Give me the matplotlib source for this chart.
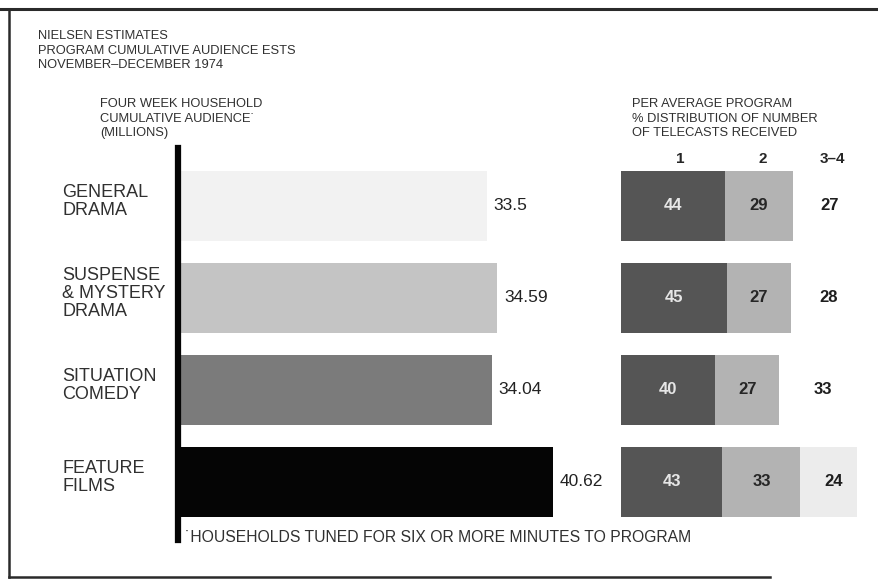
import matplotlib.pyplot as plt
from matplotlib.lines import Line2D

plt.rcParams["font.family"] = ["Liberation Sans", "DejaVu Sans"]

categories = ["GENERAL\nDRAMA", "SUSPENSE\n& MYSTERY\nDRAMA", "SITUATION\nCOMEDY", "FEATURE\nFILMS"]
audience_millions = [33.5, 34.59, 34.04, 40.62]

telecast_groups = ["1", "2", "3\u20134"]
share_one = [44, 45, 40, 43]
share_two = [29, 27, 27, 33]
share_three_four = [27, 28, 33, 24]

bar_colors = ["#f2f2f2", "#c4c4c4", "#7b7b7b", "#050505"]
seg_colors = ["#555555", "#b3b3b3"]
seg3_colors = ["#ffffff", "#ffffff", "#ffffff", "#ececec"]

W, H = 879, 580
fig = plt.figure(figsize=(W / 100, H / 100), dpi=100)
fig.patch.set_facecolor("white")


def fx(px):
    return px / W


def fy(py):
    return 1 - py / H


# frame drawn around the sheet
ink = "#2a2a2a"
fig.add_artist(Line2D([fx(0), fx(879)], [fy(9), fy(9)], color=ink, lw=2.2))
fig.add_artist(Line2D([fx(9), fx(9)], [fy(9), fy(577)], color=ink, lw=1.8))
fig.add_artist(Line2D([fx(9), fx(770)], [fy(577), fy(577)], color=ink, lw=1.8))

top_px, bot_px = 148, 540
row_px = 92
first_center = 206
y_top = -(first_center - top_px) / row_px
y_bot = (bot_px - first_center) / row_px
rows = list(range(len(categories)))
bar_h = 0.76
txt = "#303030"

# left: cumulative audience bars
ax = fig.add_axes([fx(178), fy(bot_px), fx(600 - 178), (bot_px - top_px) / H])
ax.set_xlim(0, (600 - 178) / 9.22)
ax.set_ylim(y_bot, y_top)
ax.barh(rows, audience_millions, height=bar_h, color=bar_colors, edgecolor="none")
for r, v in zip(rows, audience_millions):
    ax.annotate(f"{v:g}", (v, r), xytext=(5, 0), textcoords="offset points",
                ha="left", va="center", fontsize=12.5, color="#222222")
    ax.text((62 - 178) / (600 - 178), r - 0.05, categories[r],
            transform=ax.get_yaxis_transform(), ha="left", va="center",
            fontsize=13, color=txt, linespacing=1.1)
for side in ["top", "right", "bottom"]:
    ax.spines[side].set_visible(False)
ax.spines["left"].set_linewidth(4.5)
ax.spines["left"].set_color("#050505")
ax.set_xticks([])
ax.set_yticks([])
ax.patch.set_alpha(0)

# right: distribution of telecasts received
scale = 2.36
ax2 = fig.add_axes([fx(621), fy(bot_px), fx(870 - 621), (bot_px - top_px) / H])
ax2.set_xlim(0, (870 - 621) / scale)
ax2.set_ylim(y_bot, y_top)
left2 = share_one
left3 = [a + b for a, b in zip(share_one, share_two)]
ax2.barh(rows, share_one, height=bar_h, color=seg_colors[0], edgecolor="none")
ax2.barh(rows, share_two, left=left2, height=bar_h, color=seg_colors[1], edgecolor="none")
ax2.barh(rows, share_three_four, left=left3, height=bar_h, color=seg3_colors, edgecolor="none")
for r in rows:
    ax2.text(share_one[r] / 2, r, str(share_one[r]), ha="center", va="center",
             fontsize=12, fontweight="bold", color="#e6e6e6")
    ax2.text(left2[r] + share_two[r] / 2, r, str(share_two[r]), ha="center", va="center",
             fontsize=12, fontweight="bold", color="#262626")
    ax2.text(left3[r] + share_three_four[r] / 2 + 2, r, str(share_three_four[r]),
             ha="center", va="center", fontsize=12, fontweight="bold", color="#1e1e1e")
for lbl, xp in zip(telecast_groups, [680, 763, 832]):
    ax2.text((xp - 621) / scale, y_top + 11 / row_px, lbl, ha="center", va="center",
             fontsize=11, fontweight="bold", color="#262626")
ax2.axis("off")

# headings
head = dict(ha="left", va="top", fontsize=9.3, color=txt, linespacing=1.28)
fig.text(fx(38), fy(30), "NIELSEN ESTIMATES\nPROGRAM CUMULATIVE AUDIENCE ESTS\nNOVEMBER\u2013DECEMBER 1974", **head)
fig.text(fx(100), fy(98), "FOUR WEEK HOUSEHOLD\nCUMULATIVE AUDIENCE\u02d9\n(MILLIONS)", **head)
fig.text(fx(632), fy(98), "PER AVERAGE PROGRAM\n% DISTRIBUTION OF NUMBER\nOF TELECASTS RECEIVED", **head)
fig.text(fx(185), fy(537), "\u02d9HOUSEHOLDS TUNED FOR SIX OR MORE MINUTES TO PROGRAM",
         ha="left", va="center", fontsize=11.3, color=txt)

fig.savefig("out.png", dpi=100)
plt.close(fig)
